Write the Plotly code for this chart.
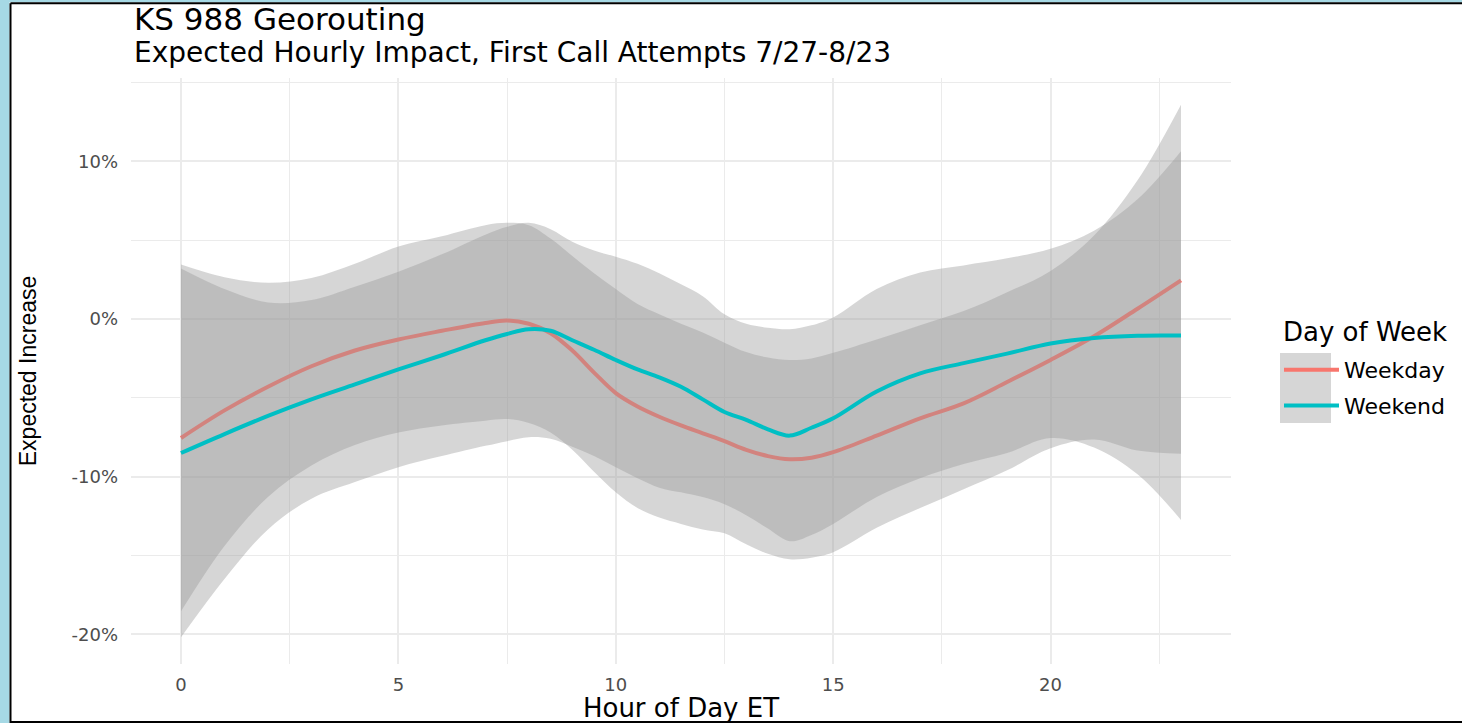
import plotly.graph_objects as go

# ---------------- data ----------------
hours = [0, 1, 2, 3, 4, 5, 6, 7, 7.5, 8, 8.5, 9, 9.5, 10, 10.5, 11, 11.5, 12,
         12.5, 13, 13.5, 14, 14.5, 15, 16, 17, 18, 19, 20, 21, 22, 23]

weekday_fit = [-7.55, -5.8, -4.3, -3.0, -2.0, -1.3, -0.75, -0.25, -0.1, -0.3, -0.9, -2.0,
               -3.4, -4.7, -5.55, -6.2, -6.75, -7.25, -7.75, -8.3, -8.7, -8.9, -8.8, -8.45,
               -7.4, -6.3, -5.35, -4.0, -2.6, -1.1, 0.65, 2.45]
weekday_upper = [3.45, 2.65, 2.3, 2.6, 3.5, 4.6, 5.25, 5.95, 6.1, 5.95, 5.1, 4.0, 2.9, 1.9,
                 0.95, 0.3, -0.3, -0.85, -1.5, -2.1, -2.45, -2.6, -2.5, -2.15, -1.3, -0.4,
                 0.5, 1.7, 3.05, 5.3, 8.8, 13.6]
weekday_lower = [-18.55, -14.4, -11.3, -9.3, -8.0, -7.2, -6.75, -6.45, -6.35, -6.6, -7.2,
                 -8.3, -9.7, -11.0, -12.0, -12.6, -13.0, -13.35, -13.6, -14.3, -14.9,
                 -15.25, -15.15, -14.8, -13.25, -12.0, -10.8, -9.6, -8.2, -7.65, -8.35, -8.55]

weekend_fit = [-8.5, -7.3, -6.15, -5.1, -4.15, -3.2, -2.3, -1.35, -0.95, -0.65, -0.75, -1.35,
               -1.95, -2.6, -3.2, -3.7, -4.3, -5.1, -5.9, -6.4, -7.0, -7.4, -6.9, -6.3,
               -4.6, -3.45, -2.8, -2.2, -1.55, -1.2, -1.06, -1.05]
weekend_upper = [3.2, 1.9, 1.05, 1.2, 2.05, 3.0, 4.1, 5.35, 5.85, 6.1, 5.7, 4.9, 4.35, 3.95,
                 3.5, 2.9, 2.2, 1.45, 0.3, -0.3, -0.55, -0.65, -0.4, 0.1, 1.9, 2.95, 3.4,
                 3.85, 4.45, 5.6, 7.6, 10.65]
weekend_lower = [-20.2, -16.5, -13.35, -11.4, -10.35, -9.4, -8.7, -8.05, -7.75, -7.5, -7.6,
                 -8.1, -8.7, -9.4, -10.1, -10.7, -11.0, -11.3, -11.75, -12.45, -13.3, -14.1,
                 -13.7, -13.0, -11.3, -10.1, -9.2, -8.5, -7.55, -8.15, -9.85, -12.75]

series_names = ["Weekday", "Weekend"]
series_colors = ["#F8766D", "#00BFC4"]

x_tickvals = [0, 5, 10, 15, 20]
y_tickvals = [-20, -10, 0, 10]
y_ticktext = ["-20%", "-10%", "0%", "10%"]

title_text = "KS 988 Georouting"
subtitle_text = "Expected Hourly Impact, First Call Attempts 7/27-8/23"
x_title = "Hour of Day ET"
y_title = "Expected Increase"
legend_title = "Day of Week"

# ---------------- figure ----------------
W, H = 1462, 723
L, R, T, B = 131, 231, 78, 59
PW, PH = W - L - R, H - T - B


def px_x(p):
    return (p - L) / PW


def px_y(p):
    return (H - B - p) / PH


FONT = "DejaVu Sans, Liberation Sans, Arial, sans-serif"
RIBBON = "rgba(153,153,153,0.4)"
FRAME_BLUE = "#a6d9e5"

fig = go.Figure()
groups = [
    (series_names[0], series_colors[0], weekday_fit, weekday_lower, weekday_upper),
    (series_names[1], series_colors[1], weekend_fit, weekend_lower, weekend_upper),
]
for name, color, fit, lower, upper in groups:
    fig.add_trace(go.Scatter(x=hours, y=lower, mode="lines", legendgroup=name,
                             line=dict(width=0, shape="spline", color=RIBBON),
                             showlegend=False, hoverinfo="skip"))
    fig.add_trace(go.Scatter(x=hours, y=upper, mode="lines", fill="tonexty",
                             fillcolor=RIBBON, legendgroup=name,
                             line=dict(width=0, shape="spline", color=RIBBON),
                             showlegend=False, hoverinfo="skip"))
    fig.add_trace(go.Scatter(x=hours, y=fit, mode="lines", name=name, legendgroup=name,
                             line=dict(width=4, shape="spline", color=color)))

all_vals = weekday_lower + weekday_upper + weekend_lower + weekend_upper
ymin, ymax = min(all_vals), max(all_vals)
yexp = 0.05 * (ymax - ymin)
xexp = 0.05 * (max(hours) - min(hours))

GRID = "#ebebeb"
frame = [
    # light-blue strips of the screenshot frame (left and top)
    dict(type="rect", xref="paper", yref="paper", layer="below",
         x0=px_x(-5), x1=px_x(9.5), y0=px_y(730), y1=px_y(-5),
         fillcolor=FRAME_BLUE, line=dict(width=0)),
    dict(type="rect", xref="paper", yref="paper", layer="below",
         x0=px_x(-5), x1=px_x(1470), y0=px_y(2.3), y1=px_y(-5),
         fillcolor=FRAME_BLUE, line=dict(width=0)),
    # black frame lines (left, top, bottom)
    dict(type="line", xref="paper", yref="paper", layer="below",
         x0=px_x(10.5), x1=px_x(10.5), y0=px_y(730), y1=px_y(3.3),
         line=dict(color="#000000", width=2)),
    dict(type="line", xref="paper", yref="paper", layer="below",
         x0=px_x(10.5), x1=px_x(1470), y0=px_y(3.3), y1=px_y(3.3),
         line=dict(color="#000000", width=2)),
    dict(type="line", xref="paper", yref="paper", layer="below",
         x0=px_x(10.5), x1=px_x(1470), y0=px_y(722), y1=px_y(722),
         line=dict(color="#000000", width=2)),
    # grey key background behind the legend symbols
    dict(type="rect", xref="paper", yref="paper", layer="below",
         x0=px_x(1280), x1=px_x(1331), y0=px_y(423), y1=px_y(353),
         fillcolor="#d6d6d6", line=dict(width=0)),
]

fig.update_layout(
    width=W, height=H,
    margin=dict(l=L, r=R, t=T, b=B, autoexpand=False),
    paper_bgcolor="#ffffff",
    plot_bgcolor="rgba(0,0,0,0)",
    font=dict(family=FONT, color="#000000"),
    showlegend=True,
    legend=dict(
        font=dict(size=22, family=FONT, color="#000000"),
        x=px_x(1279), xanchor="left",
        y=px_y(349), yanchor="top",
        bgcolor="rgba(0,0,0,0)",
        borderwidth=0,
        itemwidth=55,
        traceorder="grouped",
        tracegroupgap=4,
    ),
    xaxis=dict(
        range=[min(hours) - xexp, max(hours) + xexp],
        tickmode="array", tickvals=x_tickvals,
        ticks="", showline=False, zeroline=False,
        showgrid=True, gridcolor=GRID, gridwidth=1.6,
        minor=dict(tickmode="linear", tick0=0, dtick=2.5, showgrid=True,
                   gridcolor=GRID, gridwidth=1.0),
        tickfont=dict(size=18, color="#4d4d4d", family=FONT),
        ticklabelstandoff=8,
        title=dict(text=x_title, font=dict(size=26, color="#000000", family=FONT), standoff=4),
    ),
    yaxis=dict(
        range=[ymin - yexp, ymax + yexp],
        tickmode="array", tickvals=y_tickvals, ticktext=y_ticktext,
        ticks="", showline=False, zeroline=False,
        showgrid=True, gridcolor=GRID, gridwidth=1.6,
        minor=dict(tickmode="linear", tick0=0, dtick=5, showgrid=True,
                   gridcolor=GRID, gridwidth=1.0),
        tickfont=dict(size=18, color="#4d4d4d", family=FONT),
        ticklabelstandoff=12,
        title=dict(text=y_title,
                   font=dict(size=23, color="#000000",
                             family="Liberation Sans Narrow, Liberation Sans, Arial, sans-serif"),
                   standoff=28),
    ),
    shapes=frame,
    annotations=[
        dict(text=title_text, xref="paper", yref="paper", x=px_x(132), y=px_y(19),
             xanchor="left", yanchor="middle", showarrow=False,
             font=dict(size=31, family=FONT, color="#000000")),
        dict(text=subtitle_text, xref="paper", yref="paper", x=px_x(132), y=px_y(53),
             xanchor="left", yanchor="middle", showarrow=False,
             font=dict(size=28, family=FONT, color="#000000")),
        dict(text=legend_title, xref="paper", yref="paper", x=px_x(1281), y=px_y(332),
             xanchor="left", yanchor="middle", showarrow=False,
             font=dict(size=26, family=FONT, color="#000000")),
    ],
)

fig.write_html(
    "out.html",
    config={"displayModeBar": False},
    post_script="document.body.style.margin='0px';document.body.style.overflow='hidden';",
)
